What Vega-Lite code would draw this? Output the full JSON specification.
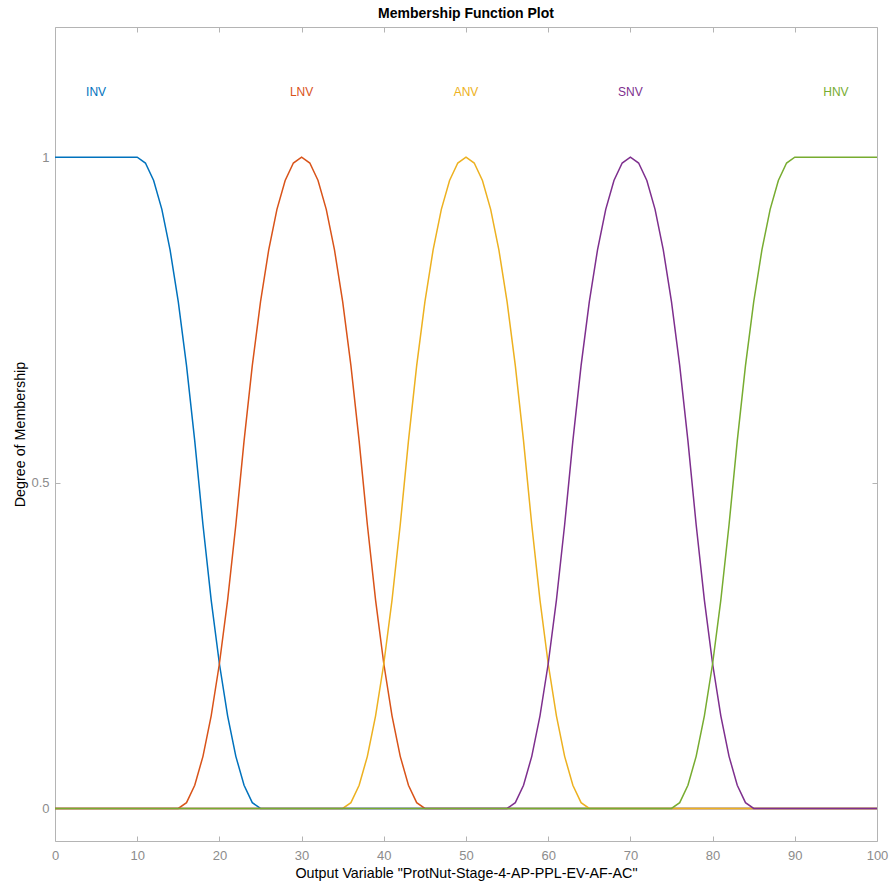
{
  "$schema": "https://vega.github.io/schema/vega-lite/v6.json",
  "autosize": {"type": "none"},
  "width": 822,
  "height": 814,
  "padding": {"left": 55, "top": 27, "right": 12, "bottom": 40},
  "background": "white",
  "title": {"text": "Membership Function Plot", "fontSize": 14, "font": "Liberation Sans", "fontWeight": "bold", "color": "#000000", "anchor": "middle", "offset": 6},
  "config": {
    "view": {"stroke": null},
    "axis": {
      "grid": false,
      "domainColor": "#b4b4b4",
      "tickColor": "#b4b4b4",
      "tickSize": -5,
      "labelFlush": false,
      "labelColor": "#8c8c8c",
      "labelFont": "Liberation Sans",
      "labelFontSize": 13,
      "titleFont": "Liberation Sans",
      "titleFontSize": 14.3,
      "titleFontWeight": "normal",
      "titleColor": "#000000"
    }
  },
  "datasets": {
    "INV": [{"x":0,"y":1},{"x":10,"y":1},{"x":11,"y":0.9911},{"x":12,"y":0.9644},{"x":13,"y":0.92},{"x":14,"y":0.8578},{"x":15,"y":0.7778},{"x":16,"y":0.68},{"x":17,"y":0.5644},{"x":18,"y":0.4356},{"x":19,"y":0.32},{"x":20,"y":0.2222},{"x":21,"y":0.1422},{"x":22,"y":0.08},{"x":23,"y":0.0356},{"x":24,"y":0.0089},{"x":25,"y":0},{"x":100,"y":0}],
    "LNV": [{"x":0,"y":0},{"x":15,"y":0},{"x":16,"y":0.0089},{"x":17,"y":0.0356},{"x":18,"y":0.08},{"x":19,"y":0.1422},{"x":20,"y":0.2222},{"x":21,"y":0.32},{"x":22,"y":0.4356},{"x":23,"y":0.5644},{"x":24,"y":0.68},{"x":25,"y":0.7778},{"x":26,"y":0.8578},{"x":27,"y":0.92},{"x":28,"y":0.9644},{"x":29,"y":0.9911},{"x":30,"y":1},{"x":31,"y":0.9911},{"x":32,"y":0.9644},{"x":33,"y":0.92},{"x":34,"y":0.8578},{"x":35,"y":0.7778},{"x":36,"y":0.68},{"x":37,"y":0.5644},{"x":38,"y":0.4356},{"x":39,"y":0.32},{"x":40,"y":0.2222},{"x":41,"y":0.1422},{"x":42,"y":0.08},{"x":43,"y":0.0356},{"x":44,"y":0.0089},{"x":45,"y":0},{"x":100,"y":0}],
    "ANV": [{"x":0,"y":0},{"x":35,"y":0},{"x":36,"y":0.0089},{"x":37,"y":0.0356},{"x":38,"y":0.08},{"x":39,"y":0.1422},{"x":40,"y":0.2222},{"x":41,"y":0.32},{"x":42,"y":0.4356},{"x":43,"y":0.5644},{"x":44,"y":0.68},{"x":45,"y":0.7778},{"x":46,"y":0.8578},{"x":47,"y":0.92},{"x":48,"y":0.9644},{"x":49,"y":0.9911},{"x":50,"y":1},{"x":51,"y":0.9911},{"x":52,"y":0.9644},{"x":53,"y":0.92},{"x":54,"y":0.8578},{"x":55,"y":0.7778},{"x":56,"y":0.68},{"x":57,"y":0.5644},{"x":58,"y":0.4356},{"x":59,"y":0.32},{"x":60,"y":0.2222},{"x":61,"y":0.1422},{"x":62,"y":0.08},{"x":63,"y":0.0356},{"x":64,"y":0.0089},{"x":65,"y":0},{"x":100,"y":0}],
    "SNV": [{"x":0,"y":0},{"x":55,"y":0},{"x":56,"y":0.0089},{"x":57,"y":0.0356},{"x":58,"y":0.08},{"x":59,"y":0.1422},{"x":60,"y":0.2222},{"x":61,"y":0.32},{"x":62,"y":0.4356},{"x":63,"y":0.5644},{"x":64,"y":0.68},{"x":65,"y":0.7778},{"x":66,"y":0.8578},{"x":67,"y":0.92},{"x":68,"y":0.9644},{"x":69,"y":0.9911},{"x":70,"y":1},{"x":71,"y":0.9911},{"x":72,"y":0.9644},{"x":73,"y":0.92},{"x":74,"y":0.8578},{"x":75,"y":0.7778},{"x":76,"y":0.68},{"x":77,"y":0.5644},{"x":78,"y":0.4356},{"x":79,"y":0.32},{"x":80,"y":0.2222},{"x":81,"y":0.1422},{"x":82,"y":0.08},{"x":83,"y":0.0356},{"x":84,"y":0.0089},{"x":85,"y":0},{"x":100,"y":0}],
    "HNV": [{"x":0,"y":0},{"x":75,"y":0},{"x":76,"y":0.0089},{"x":77,"y":0.0356},{"x":78,"y":0.08},{"x":79,"y":0.1422},{"x":80,"y":0.2222},{"x":81,"y":0.32},{"x":82,"y":0.4356},{"x":83,"y":0.5644},{"x":84,"y":0.68},{"x":85,"y":0.7778},{"x":86,"y":0.8578},{"x":87,"y":0.92},{"x":88,"y":0.9644},{"x":89,"y":0.9911},{"x":90,"y":1},{"x":100,"y":1}],
    "labels": [{"name":"INV","x":5,"y":1.1},{"name":"LNV","x":30,"y":1.1},{"name":"ANV","x":50,"y":1.1},{"name":"SNV","x":70,"y":1.1},{"name":"HNV","x":95,"y":1.1}]
  },
  "resolve": {"axis": {"x": "independent", "y": "independent"}},
  "layer": [
    {
      "data": {"name": "INV"},
      "mark": {"type": "line", "color": "#0072BD", "strokeWidth": 1.5, "clip": true},
      "encoding": {
        "x": {"field": "x", "type": "quantitative", "scale": {"domain": [0, 100], "nice": false, "zero": false},
              "axis": {"orient": "bottom", "title": "Output Variable \"ProtNut-Stage-4-AP-PPL-EV-AF-AC\"", "values": [0,10,20,30,40,50,60,70,80,90,100], "labelPadding": 13, "titlePadding": 4}},
        "y": {"field": "y", "type": "quantitative", "scale": {"domain": [-0.05, 1.2], "nice": false, "zero": false},
              "axis": {"orient": "left", "title": "Degree of Membership", "values": [0, 0.5, 1], "format": "~g", "labelPadding": 11, "titlePadding": 3}}
      }
    },
    {
      "data": {"name": "LNV"},
      "mark": {"type": "line", "color": "#D95319", "strokeWidth": 1.5, "clip": true},
      "encoding": {
        "x": {"field": "x", "type": "quantitative", "axis": {"orient": "top", "title": null, "labels": false, "values": [0,10,20,30,40,50,60,70,80,90,100]}},
        "y": {"field": "y", "type": "quantitative", "axis": {"orient": "right", "title": null, "labels": false, "values": [0, 0.5, 1]}}
      }
    },
    {
      "data": {"name": "ANV"},
      "mark": {"type": "line", "color": "#EDB120", "strokeWidth": 1.5, "clip": true},
      "encoding": {
        "x": {"field": "x", "type": "quantitative", "axis": null},
        "y": {"field": "y", "type": "quantitative", "axis": null}
      }
    },
    {
      "data": {"name": "SNV"},
      "mark": {"type": "line", "color": "#7E2F8E", "strokeWidth": 1.5, "clip": true},
      "encoding": {
        "x": {"field": "x", "type": "quantitative", "axis": null},
        "y": {"field": "y", "type": "quantitative", "axis": null}
      }
    },
    {
      "data": {"name": "HNV"},
      "mark": {"type": "line", "color": "#77AC30", "strokeWidth": 1.5, "clip": true},
      "encoding": {
        "x": {"field": "x", "type": "quantitative", "axis": null},
        "y": {"field": "y", "type": "quantitative", "axis": null}
      }
    },
    {
      "data": {"name": "labels"},
      "mark": {"type": "text", "font": "Liberation Sans", "fontSize": 12, "align": "center", "baseline": "middle"},
      "encoding": {
        "x": {"field": "x", "type": "quantitative", "axis": null},
        "y": {"field": "y", "type": "quantitative", "axis": null},
        "text": {"field": "name", "type": "nominal"},
        "color": {"field": "name", "type": "nominal", "legend": null,
                  "scale": {"domain": ["INV","LNV","ANV","SNV","HNV"], "range": ["#0072BD","#D95319","#EDB120","#7E2F8E","#77AC30"]}}
      }
    }
  ]
}
